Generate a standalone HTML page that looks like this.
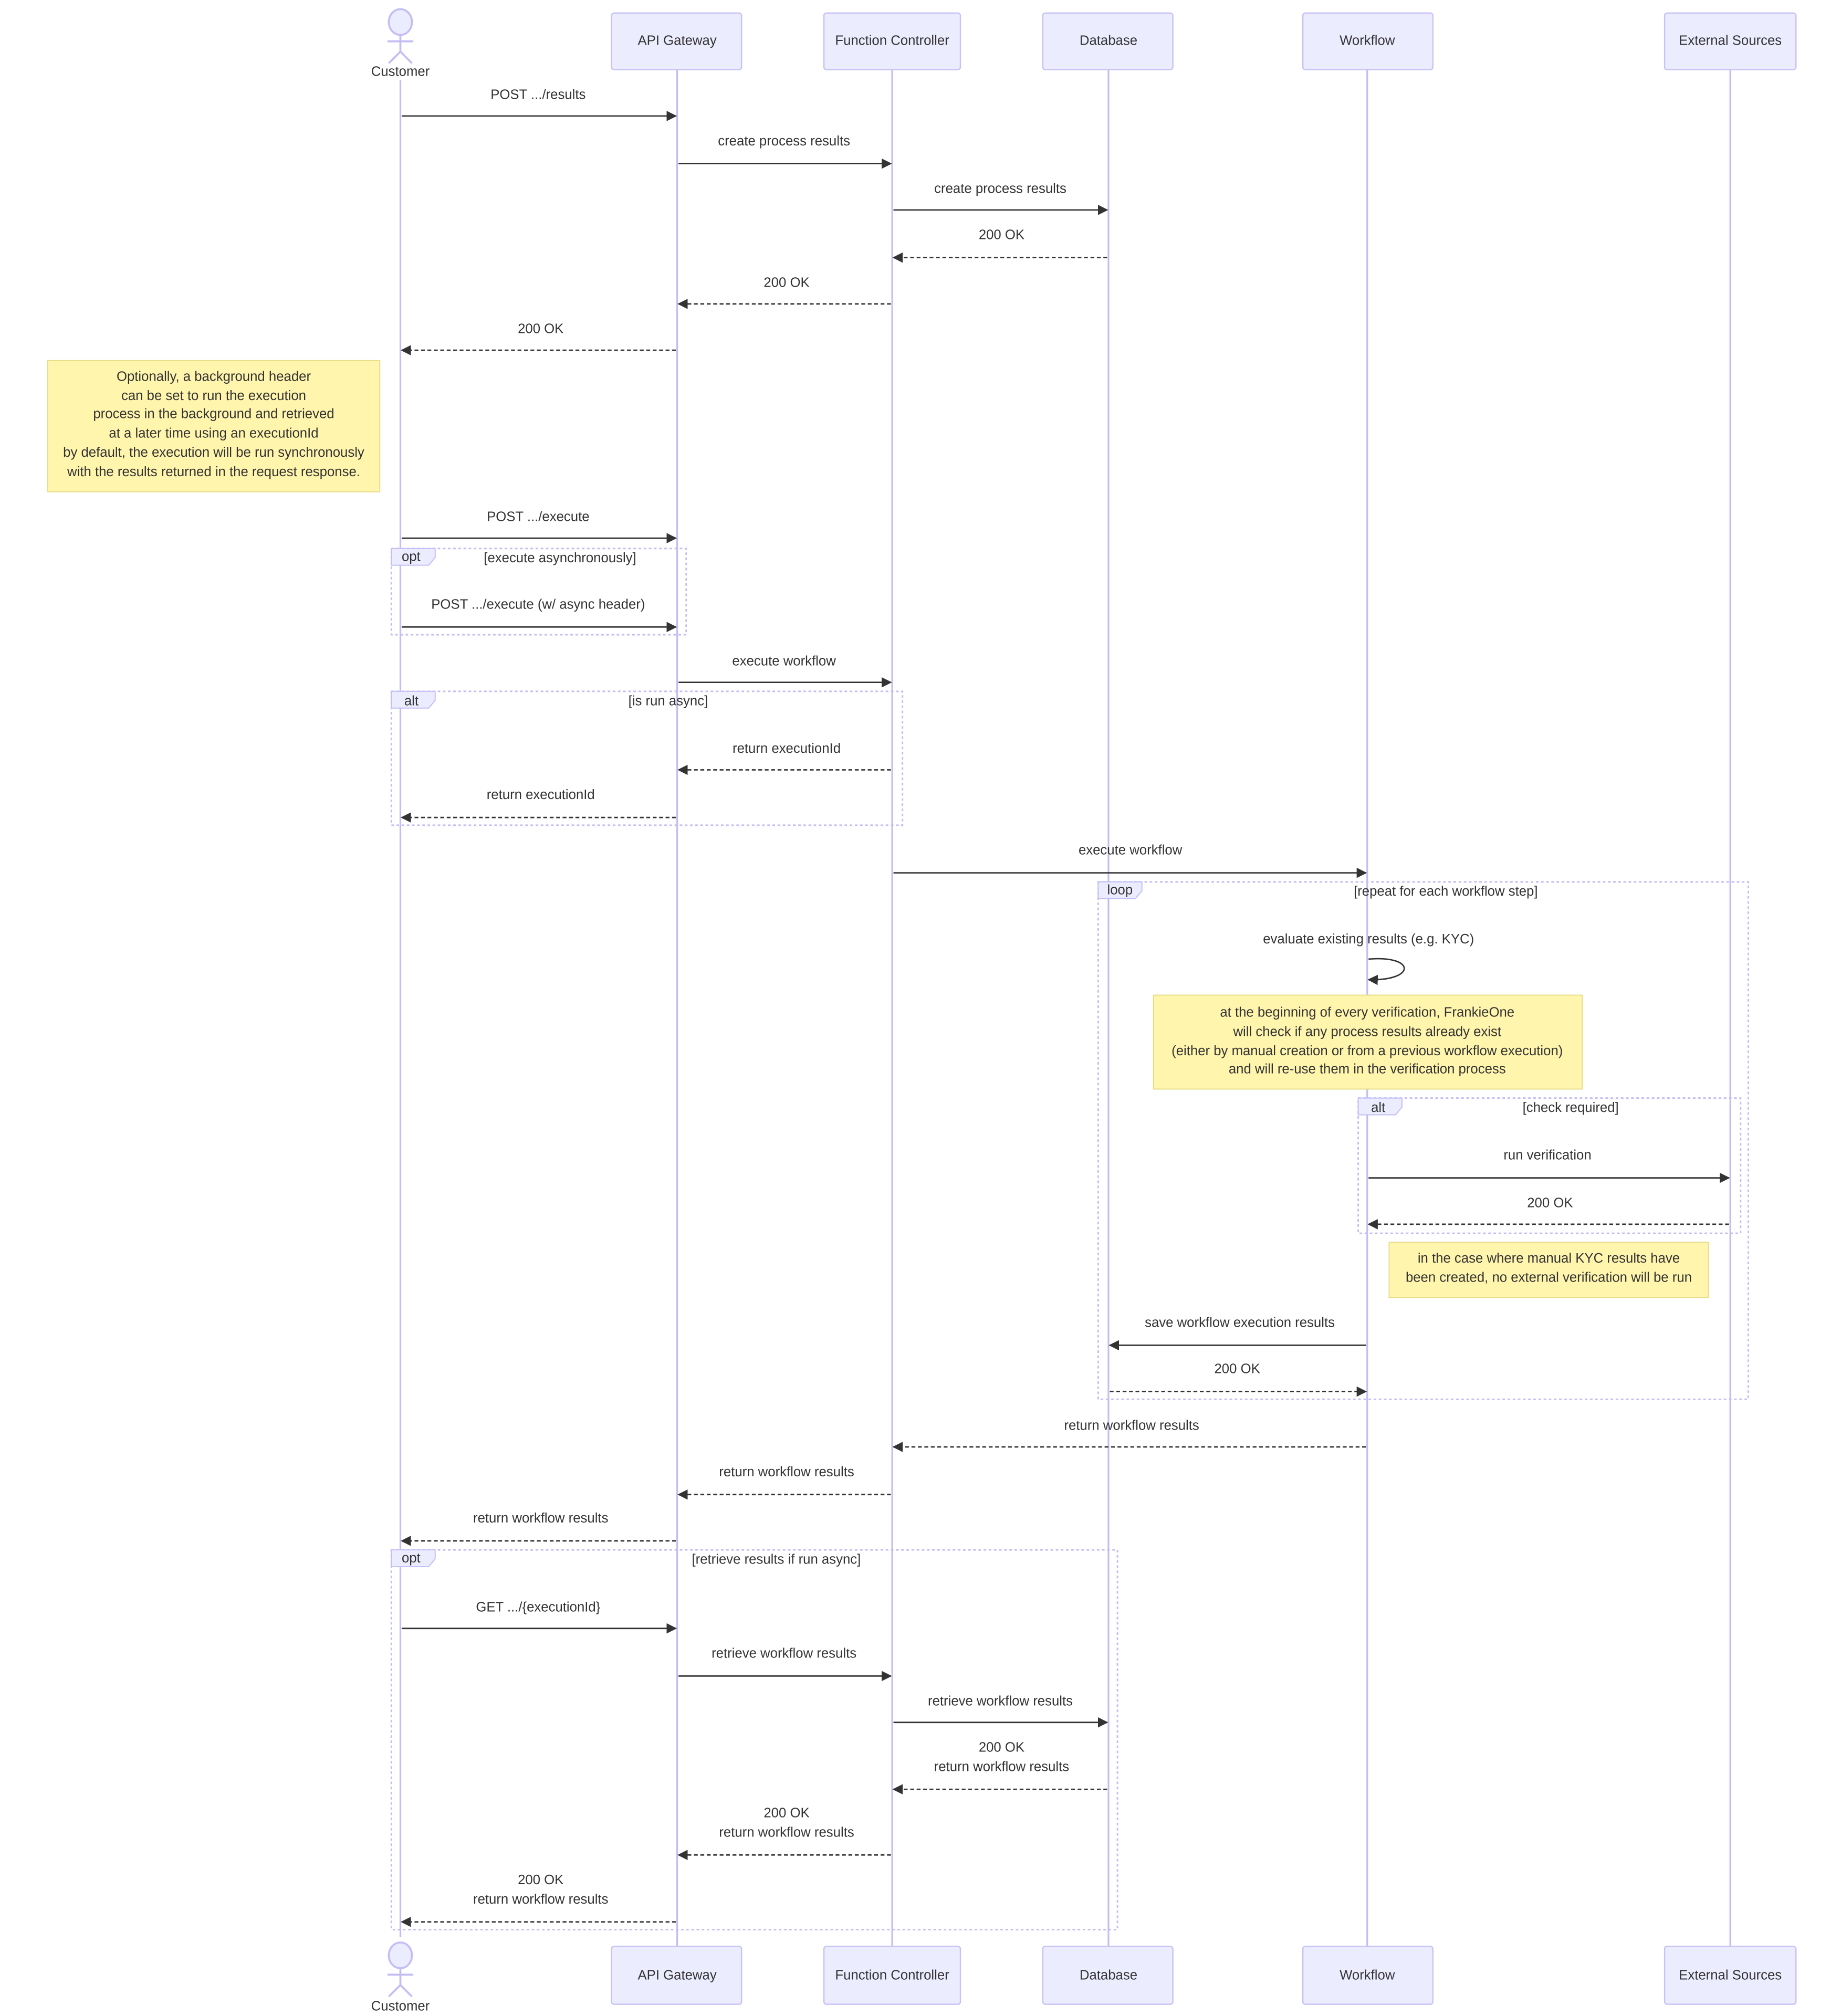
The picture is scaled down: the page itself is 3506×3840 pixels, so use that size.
<!DOCTYPE html>
<html><head><meta charset="utf-8"><style>
html,body{margin:0;padding:0;background:#fff;}
svg{display:block;}
text{font-family:"Liberation Sans","DejaVu Sans",sans-serif;fill:#333;font-size:10.5px;text-anchor:middle;dominant-baseline:middle;}
.actor{fill:#ECECFF;stroke:#c8c2f5;stroke-width:1;}
.life{stroke:#c3bdf5;stroke-width:1.3;}
.msg{stroke:#333;stroke-width:1.1;fill:none;}
.dash{stroke-dasharray:3,2;}
.frame{fill:none;stroke:#c3bdf5;stroke-width:1.2;stroke-dasharray:2,2;}
.tab{fill:#ECECFF;stroke:#c3bdf5;stroke-width:0.8;}
.note{fill:#fff5ad;stroke:#e6dd8a;stroke-width:0.8;}
.l{text-anchor:start;}
</style></head><body>
<svg width="3506" height="3840" viewBox="0 0 1430 1566" xmlns="http://www.w3.org/2000/svg">
<defs>
<marker id="a" viewBox="0 0 10 10" refX="9" refY="5" markerWidth="8" markerHeight="8" markerUnits="userSpaceOnUse" orient="auto"><path d="M0,0 L10,5 L0,10 z" fill="#333"/></marker>
</defs>
<!-- lifelines -->
<line class="life" x1="311" y1="62" x2="311" y2="1505"/>
<line class="life" x1="526" y1="54" x2="526" y2="1512"/>
<line class="life" x1="693" y1="54" x2="693" y2="1512"/>
<line class="life" x1="861" y1="54" x2="861" y2="1512"/>
<line class="life" x1="1062" y1="54" x2="1062" y2="1512"/>
<line class="life" x1="1344" y1="54" x2="1344" y2="1512"/>
<!-- actor boxes top -->
<g>
<rect class="actor" x="475" y="10" width="101" height="44" rx="2"/><text x="526" y="32">API Gateway</text>
<rect class="actor" x="640" y="10" width="106" height="44" rx="2"/><text x="693" y="32">Function Controller</text>
<rect class="actor" x="810" y="10" width="101" height="44" rx="2"/><text x="861" y="32">Database</text>
<rect class="actor" x="1012" y="10" width="101" height="44" rx="2"/><text x="1062" y="32">Workflow</text>
<rect class="actor" x="1293" y="10" width="102" height="44" rx="2"/><text x="1344" y="32">External Sources</text>
</g>
<g>
<rect class="actor" x="475" y="1512" width="101" height="45" rx="2"/><text x="526" y="1535">API Gateway</text>
<rect class="actor" x="640" y="1512" width="106" height="45" rx="2"/><text x="693" y="1535">Function Controller</text>
<rect class="actor" x="810" y="1512" width="101" height="45" rx="2"/><text x="861" y="1535">Database</text>
<rect class="actor" x="1012" y="1512" width="101" height="45" rx="2"/><text x="1062" y="1535">Workflow</text>
<rect class="actor" x="1293" y="1512" width="102" height="45" rx="2"/><text x="1344" y="1535">External Sources</text>
</g>
<!-- stick figures -->
<g stroke="#c3bdf5" stroke-width="1.5" fill="#ECECFF">
<ellipse cx="311" cy="17" rx="9" ry="10"/>
<line x1="311" y1="27" x2="311" y2="40"/><line x1="301" y1="32" x2="321" y2="32"/>
<line x1="311" y1="40" x2="302" y2="49" fill="none"/><line x1="311" y1="40" x2="320" y2="49"/>
<ellipse cx="311" cy="1519" rx="9" ry="10"/>
<line x1="311" y1="1529" x2="311" y2="1542"/><line x1="301" y1="1534" x2="321" y2="1534"/>
<line x1="311" y1="1542" x2="302" y2="1551"/><line x1="311" y1="1542" x2="320" y2="1551"/>
</g>
<text x="311" y="56">Customer</text>
<text x="311" y="1559">Customer</text>

<!-- frames -->
<rect class="frame" x="304" y="426" width="229" height="67"/>
<path class="tab" d="M304,426 H338 V433 L333,439 H304 Z"/><text class="l" x="312" y="433">opt</text>
<text x="435" y="434">[execute asynchronously]</text>

<rect class="frame" x="304" y="537" width="397" height="104"/>
<path class="tab" d="M304,537 H338 V544 L333,550 H304 Z"/><text class="l" x="314" y="545">alt</text>
<text x="519" y="545">[is run async]</text>

<rect class="frame" x="853" y="685" width="505" height="402"/>
<path class="tab" d="M853,685 H887 V692 L882,698 H853 Z"/><text class="l" x="860" y="692">loop</text>
<text x="1123" y="693">[repeat for each workflow step]</text>

<rect class="frame" x="1055" y="853" width="297" height="105"/>
<path class="tab" d="M1055,853 H1089 V860 L1084,866 H1055 Z"/><text class="l" x="1065" y="861">alt</text>
<text x="1220" y="861">[check required]</text>

<rect class="frame" x="304" y="1204" width="564" height="295"/>
<path class="tab" d="M304,1204 H338 V1211 L333,1217 H304 Z"/><text class="l" x="312" y="1211">opt</text>
<text x="603" y="1212">[retrieve results if run async]</text>

<!-- notes -->
<rect class="note" x="37" y="280" width="258" height="102"/>
<text x="166" y="293">Optionally, a background header</text>
<text x="166" y="308">can be set to run the execution</text>
<text x="166" y="322">process in the background and retrieved</text>
<text x="166" y="337">at a later time using an executionId</text>
<text x="166" y="352">by default, the execution will be run synchronously</text>
<text x="166" y="367">with the results returned in the request response.</text>

<rect class="note" x="896" y="773" width="333" height="73"/>
<text x="1062" y="787">at the beginning of every verification, FrankieOne</text>
<text x="1062" y="802">will check if any process results already exist</text>
<text x="1062" y="817">(either by manual creation or from a previous workflow execution)</text>
<text x="1062" y="831">and will re-use them in the verification process</text>

<rect class="note" x="1079" y="965" width="248" height="43"/>
<text x="1203" y="978">in the case where manual KYC results have</text>
<text x="1203" y="993">been created, no external verification will be run</text>

<!-- messages -->
<g>
<text x="418" y="74">POST .../results</text><line class="msg" x1="312" y1="90" x2="525" y2="90" marker-end="url(#a)"/>
<text x="609" y="110">create process results</text><line class="msg" x1="527" y1="127" x2="692" y2="127" marker-end="url(#a)"/>
<text x="777" y="147">create process results</text><line class="msg" x1="694" y1="163" x2="860" y2="163" marker-end="url(#a)"/>
<text x="778" y="183">200 OK</text><line class="msg dash" x1="860" y1="200" x2="694" y2="200" marker-end="url(#a)"/>
<text x="611" y="220">200 OK</text><line class="msg dash" x1="692" y1="236" x2="527" y2="236" marker-end="url(#a)"/>
<text x="420" y="256">200 OK</text><line class="msg dash" x1="525" y1="272" x2="312" y2="272" marker-end="url(#a)"/>
<text x="418" y="402">POST .../execute</text><line class="msg" x1="312" y1="418" x2="525" y2="418" marker-end="url(#a)"/>
<text x="418" y="470">POST .../execute (w/ async header)</text><line class="msg" x1="312" y1="487" x2="525" y2="487" marker-end="url(#a)"/>
<text x="609" y="514">execute workflow</text><line class="msg" x1="527" y1="530" x2="692" y2="530" marker-end="url(#a)"/>
<text x="611" y="582">return executionId</text><line class="msg dash" x1="692" y1="598" x2="527" y2="598" marker-end="url(#a)"/>
<text x="420" y="618">return executionId</text><line class="msg dash" x1="525" y1="635" x2="312" y2="635" marker-end="url(#a)"/>
<text x="878" y="661">execute workflow</text><line class="msg" x1="694" y1="678" x2="1061" y2="678" marker-end="url(#a)"/>
<text x="1063" y="730">evaluate existing results (e.g. KYC)</text>
<path class="msg" d="M1063,745 C1100,742 1100,762 1063,761" marker-end="url(#a)"/>
<text x="1202" y="898">run verification</text><line class="msg" x1="1063" y1="915" x2="1343" y2="915" marker-end="url(#a)"/>
<text x="1204" y="935">200 OK</text><line class="msg dash" x1="1343" y1="951" x2="1063" y2="951" marker-end="url(#a)"/>
<text x="963" y="1028">save workflow execution results</text><line class="msg" x1="1061" y1="1045" x2="862" y2="1045" marker-end="url(#a)"/>
<text x="961" y="1064">200 OK</text><line class="msg dash" x1="862" y1="1081" x2="1061" y2="1081" marker-end="url(#a)"/>
<text x="879" y="1108">return workflow results</text><line class="msg dash" x1="1061" y1="1124" x2="694" y2="1124" marker-end="url(#a)"/>
<text x="611" y="1144">return workflow results</text><line class="msg dash" x1="692" y1="1161" x2="527" y2="1161" marker-end="url(#a)"/>
<text x="420" y="1180">return workflow results</text><line class="msg dash" x1="525" y1="1197" x2="312" y2="1197" marker-end="url(#a)"/>
<text x="418" y="1249">GET .../{executionId}</text><line class="msg" x1="312" y1="1265" x2="525" y2="1265" marker-end="url(#a)"/>
<text x="609" y="1285">retrieve workflow results</text><line class="msg" x1="527" y1="1302" x2="692" y2="1302" marker-end="url(#a)"/>
<text x="777" y="1322">retrieve workflow results</text><line class="msg" x1="694" y1="1338" x2="860" y2="1338" marker-end="url(#a)"/>
<text x="778" y="1358">200 OK</text><text x="778" y="1373">return workflow results</text><line class="msg dash" x1="860" y1="1390" x2="694" y2="1390" marker-end="url(#a)"/>
<text x="611" y="1409">200 OK</text><text x="611" y="1424">return workflow results</text><line class="msg dash" x1="692" y1="1441" x2="527" y2="1441" marker-end="url(#a)"/>
<text x="420" y="1461">200 OK</text><text x="420" y="1476">return workflow results</text><line class="msg dash" x1="525" y1="1493" x2="312" y2="1493" marker-end="url(#a)"/>
</g>
</svg>
</body></html>
